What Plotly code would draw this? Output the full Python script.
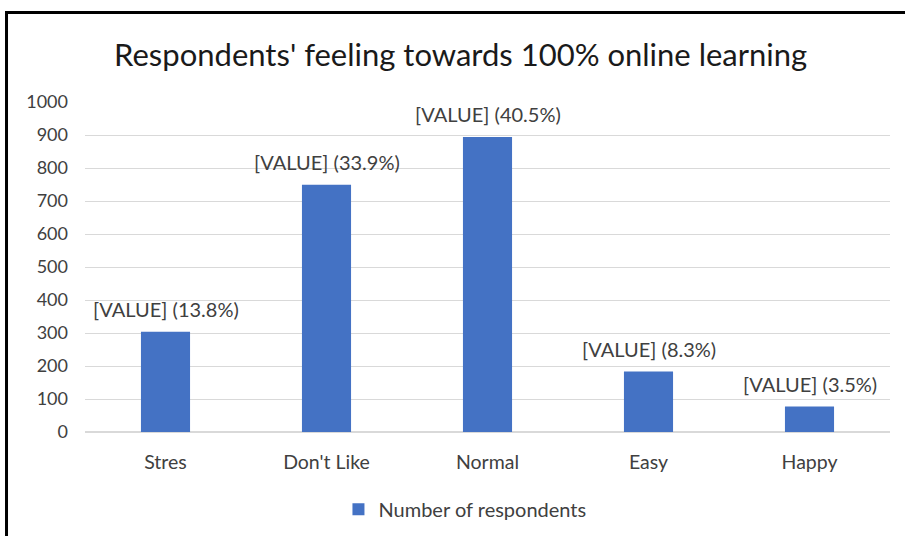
import plotly.graph_objects as go

categories = ["Stres", "Don't Like", "Normal", "Easy", "Happy"]
respondents = [304, 749, 894, 183, 77]
percent_labels = ["13.8%", "33.9%", "40.5%", "8.3%", "3.5%"]
series_name = "Number of respondents"
y_ticks = list(range(0, 1001, 100))

BLUE = "#4472C4"
FONT = "Lato"

fig = go.Figure()
fig.add_trace(go.Bar(
    x=categories, y=respondents, name=series_name,
    marker=dict(color=BLUE, line=dict(width=0)),
    showlegend=True,
))

for c, v, p in zip(categories, respondents, percent_labels):
    fig.add_annotation(x=c, y=v, text=f"[VALUE] ({p})", showarrow=False,
                       yanchor="bottom", yshift=9,
                       font=dict(family=FONT, size=20, color="#404040"))

fig.add_shape(type="rect", xref="paper", yref="paper",
              x0=-0.0975, x1=1.06, y0=-0.6, y1=1.271,
              line=dict(color="black", width=3), layer="above")

fig.update_layout(
    width=905, height=536,
    margin=dict(l=85, r=15, t=102, b=104, autoexpand=False),
    paper_bgcolor="white", plot_bgcolor="white",
    font=dict(family=FONT, size=18, color="#595959"),
    title=dict(text="Respondents' feeling towards 100% online learning",
               x=0.509, xanchor="center", y=1 - 55 / 536, yanchor="middle",
               font=dict(family=FONT, size=31, color="#1a1a1a")),
    bargap=0.695,
    xaxis=dict(showline=False, ticks="", showgrid=False, automargin=False,
               tickfont=dict(size=19.5, color="#404040"), ticklabelstandoff=16),
    yaxis=dict(range=[0, 1000], tickvals=y_ticks, showgrid=True, automargin=False,
               gridcolor="#d9d9d9", gridwidth=1, zeroline=True,
               zerolinecolor="#d9d9d9", ticks="", showline=False,
               tickfont=dict(size=18, color="#404040"), ticklabelstandoff=16),
    legend=dict(orientation="h", x=0.472, xanchor="center", y=-0.234,
                yanchor="middle", font=dict(size=20, color="#404040")),
)

fig.write_html("out.html", config={"displayModeBar": False},
               post_script="document.body.style.margin='0';")
